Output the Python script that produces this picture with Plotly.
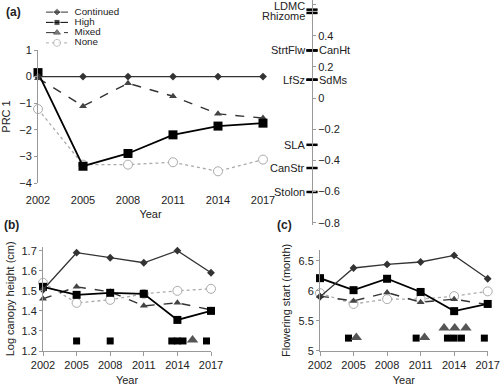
import plotly.graph_objects as go

W, H = 500, 388
FONT = "Liberation Sans"

years = [2002, 2005, 2008, 2011, 2014, 2017]
series = ["Continued", "High", "Mixed", "None"]

# Panel (a): PRC 1
prc_continued = [0, 0, 0, 0, 0, 0]
prc_high = [0.15, -3.37, -2.89, -2.19, -1.86, -1.75]
prc_mixed = [-0.06, -1.11, -0.25, -0.74, -1.40, -1.56]
prc_none = [-1.22, -3.31, -3.31, -3.22, -3.56, -3.12]

# Trait loadings
trait_names = ["LDMC", "Rhizome", "StrtFlw", "CanHt", "LfSz", "SdMs", "SLA", "CanStr", "Stolon"]
trait_loadings = [0.568, 0.547, 0.306, 0.306, 0.118, 0.118, -0.30, -0.449, -0.603]
trait_side = ["left", "left", "left", "right", "left", "right", "left", "left", "left"]
trait_label_shift = [4, -3, 0, 0, 0, 0, 0, 0, 0]
trait_tickvals = [0.6, 0.4, 0.2, 0, -0.2, -0.4, -0.6, -0.8]
trait_ticktext = ["0.6", "0.4", "0.2", "0", "\u22120.2", "\u22120.4", "\u22120.6", "\u22120.8"]

# Panel (b): log canopy height
ht_continued = [1.505, 1.69, 1.665, 1.64, 1.70, 1.59]
ht_high = [1.52, 1.48, 1.49, 1.485, 1.355, 1.40]
ht_mixed = [1.46, 1.52, 1.495, 1.425, 1.44, 1.405]
ht_none = [1.54, 1.44, 1.455, 1.485, 1.50, 1.51]
ht_sig_sq_x = [2005, 2008, 2013.5, 2014, 2014.5, 2016.6]
ht_sig_sq_y = [1.25, 1.25, 1.25, 1.25, 1.25, 1.25]
ht_sig_tri_x = [2015.35, 2017.45]
ht_sig_tri_y = [1.255, 1.255]

# Panel (c): flowering start
fl_continued = [5.90, 6.38, 6.44, 6.48, 6.59, 6.20]
fl_high = [6.21, 6.01, 6.20, 5.98, 5.66, 5.78]
fl_mixed = [5.91, 5.83, 5.97, 5.81, 5.86, 5.77]
fl_none = [5.96, 5.78, 5.86, 5.86, 5.91, 5.99]
fl_sig_sq_x = [2004.55, 2010.6, 2013.4, 2014.0, 2014.65, 2016.7]
fl_sig_sq_y = [5.21, 5.21, 5.21, 5.21, 5.21, 5.21]
fl_sig_tri_x = [2005.25, 2011.35, 2013.1, 2014.05, 2015.05, 2017.5]
fl_sig_tri_y = [5.22, 5.22, 5.38, 5.38, 5.38, 5.22]


def xd(a, b):
    return [a / W, b / W]


def yd(top, bottom):
    return [1 - bottom / H, 1 - top / H]


styles = {
    "Continued": dict(line=dict(color="#333333", width=1.3, dash="solid"),
                      marker=dict(symbol="diamond", size=6, color="#333333")),
    "High": dict(line=dict(color="#000000", width=1.8, dash="solid"),
                 marker=dict(symbol="square", size=8, color="#000000")),
    "Mixed": dict(line=dict(color="#333333", width=1.4, dash="dash"),
                  marker=dict(symbol="triangle-up", size=7, color="#444444")),
    "None": dict(line=dict(color="#aaaaaa", width=1.3, dash="dot"),
                 marker=dict(symbol="circle", size=9, color="white",
                             line=dict(color="#aaaaaa", width=1))),
}

fig = go.Figure()

panels = [
    ("x", "y", dict(zip(series, [prc_continued, prc_high, prc_mixed, prc_none])), 9),
    ("x2", "y2", dict(zip(series, [ht_continued, ht_high, ht_mixed, ht_none])), 8),
    ("x3", "y3", dict(zip(series, [fl_continued, fl_high, fl_mixed, fl_none])), 8),
]
for xa, ya, data, sqsize in panels:
    for name in ["None", "Mixed", "High", "Continued"]:
        st = styles[name]
        mk = dict(st["marker"])
        if name == "High":
            mk["size"] = sqsize
        fig.add_trace(go.Scatter(x=years, y=data[name], mode="lines+markers", name=name,
                                 line=st["line"], marker=mk, xaxis=xa, yaxis=ya,
                                 cliponaxis=False, showlegend=False))

# significance markers
for xa, ya, sx, sy, tx, ty in [("x2", "y2", ht_sig_sq_x, ht_sig_sq_y, ht_sig_tri_x, ht_sig_tri_y),
                               ("x3", "y3", fl_sig_sq_x, fl_sig_sq_y, fl_sig_tri_x, fl_sig_tri_y)]:
    fig.add_trace(go.Scatter(x=sx, y=sy, mode="markers", xaxis=xa, yaxis=ya, cliponaxis=False,
                             marker=dict(symbol="square", size=7, color="#000000"), showlegend=False))
    fig.add_trace(go.Scatter(x=tx, y=ty, mode="markers", xaxis=xa, yaxis=ya, cliponaxis=False,
                             marker=dict(symbol="triangle-up", size=10, color="#555555"), showlegend=False))

# trait loadings
fig.add_trace(go.Scatter(x=[0] * len(trait_loadings), y=trait_loadings, mode="markers",
                         xaxis="x4", yaxis="y4", cliponaxis=False, showlegend=False,
                         marker=dict(symbol="line-ew", size=8, line=dict(color="#000000", width=2.5))))
for nm, val, side, sh in zip(trait_names, trait_loadings, trait_side, trait_label_shift):
    fig.add_annotation(x=0, y=val, xref="x4", yref="y4", text=nm, showarrow=False,
                       xanchor="right" if side == "left" else "left",
                       xshift=-5 if side == "left" else 5, yshift=sh,
                       font=dict(family=FONT, size=11, color="#222222"))

# custom compact legend (sample lines + labels)
for i, name in enumerate(series):
    st = styles[name]
    mk = dict(st["marker"])
    mk["size"] = [0, 6 if name != "None" else 7, 0]
    fig.add_trace(go.Scatter(x=[0, 0.5, 1], y=[i, i, i], mode="lines+markers",
                             line=dict(color=st["line"]["color"], width=1, dash=st["line"]["dash"]),
                             marker=mk, xaxis="x5", yaxis="y5", cliponaxis=False, showlegend=False))
fig.add_trace(go.Scatter(x=[1.3] * len(series), y=list(range(len(series))), mode="text",
                         text=series, textposition="middle right",
                         textfont=dict(family=FONT, size=9.8, color="#222222"),
                         xaxis="x5", yaxis="y5", cliponaxis=False, showlegend=False))

axis_common = dict(showgrid=False, zeroline=False, linecolor="#999999", tickcolor="#999999",
                   tickfont=dict(family=FONT, size=11, color="#222222"), automargin=False)

fig.update_layout(
    width=W, height=H, margin=dict(l=0, r=0, t=0, b=0),
    paper_bgcolor="white", plot_bgcolor="rgba(0,0,0,0)",
    font=dict(family=FONT, size=11, color="#222222"),
    showlegend=False,
    xaxis=dict(axis_common, domain=xd(38, 263), range=[2002, 2017], tickvals=years,
               showline=False, ticks="outside", ticklen=7, tickcolor="rgba(0,0,0,0)",
               title=dict(text="Year", standoff=5, font=dict(size=11)), anchor="y"),
    yaxis=dict(axis_common, domain=yd(50, 183), range=[-4, 1], dtick=1, showline=True,
               ticks="outside", ticklen=3, anchor="x",
               title=dict(text="PRC 1", standoff=8, font=dict(size=11))),
    xaxis2=dict(axis_common, domain=xd(43, 211), range=[2002, 2017], tickvals=years,
                showline=True, ticks="outside", ticklen=4, anchor="y2",
                title=dict(text="Year", standoff=6, font=dict(size=11))),
    yaxis2=dict(axis_common, domain=yd(246.7, 351), range=[1.2, 1.72],
                tickvals=[1.2, 1.3, 1.4, 1.5, 1.6, 1.7], ticktext=["1.2", "1.3", "1.4", "1.5", "1.6", "1.7"],
                showline=True, ticks="outside", ticklen=3, anchor="x2",
                title=dict(text="Log canopy height (cm)", standoff=4, font=dict(size=11))),
    xaxis3=dict(axis_common, domain=xd(320, 487.7), range=[2002, 2017], tickvals=years,
                showline=True, ticks="outside", ticklen=4, anchor="y3",
                title=dict(text="Year", standoff=6, font=dict(size=11))),
    yaxis3=dict(axis_common, domain=yd(250, 350.7), range=[5, 6.68],
                tickvals=[5, 5.5, 6, 6.5], ticktext=["5", "5.5", "6", "6.5"],
                showline=True, ticks="outside", ticklen=3, anchor="x3",
                title=dict(text="Flowering start (month)", standoff=5, font=dict(size=11))),
    xaxis4=dict(domain=xd(280, 312), range=[-1, 0], visible=False, anchor="y4"),
    yaxis4=dict(axis_common, domain=yd(0, 225), range=[-0.815, 0.63], side="right",
                tickvals=trait_tickvals, ticktext=trait_ticktext,
                showline=True, ticks="outside", ticklen=3, anchor="x4"),
    xaxis5=dict(domain=xd(46, 90), range=[0, 2], visible=False, anchor="y5"),
    yaxis5=dict(domain=yd(7, 48), range=[3.5, -0.5], visible=False, anchor="x5"),
)

for txt, px, py in [("(a)", 4, 12), ("(b)", 2, 225), ("(c)", 275, 225)]:
    fig.add_annotation(x=px / W, y=1 - py / H, xref="paper", yref="paper", text="<b>" + txt + "</b>",
                       showarrow=False, xanchor="left", yanchor="middle",
                       font=dict(family=FONT, size=12, color="#222222"))

fig.write_html("out.html", config={"displayModeBar": False},
               post_script="document.body.style.margin='0';")
